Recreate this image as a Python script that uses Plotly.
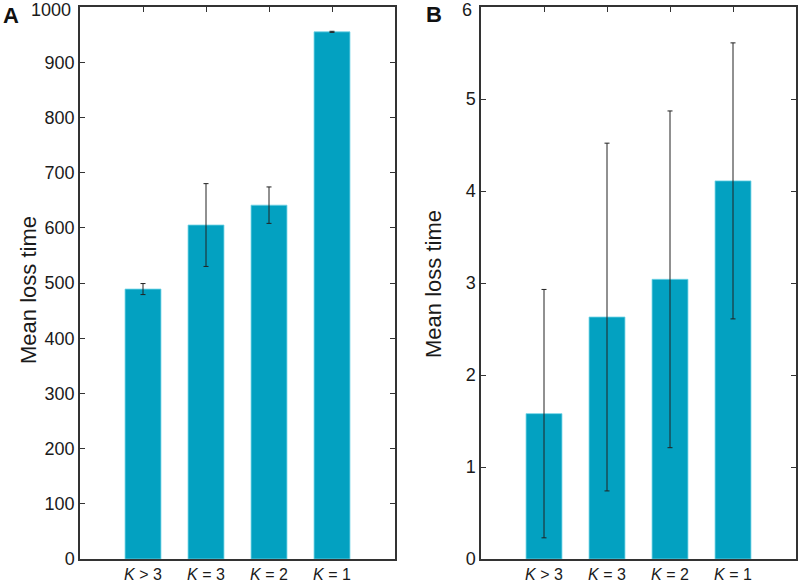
import plotly.graph_objects as go

# ── Data ──────────────────────────────────────────────────────────────────────
categories = ["<i>K</i> > 3", "<i>K</i> = 3", "<i>K</i> = 2", "<i>K</i> = 1"]

loss_a = [489, 605, 641, 955]
err_a = [10, 75, 33, 1]

loss_b = [1.58, 2.63, 3.04, 4.11]
err_b = [1.35, 1.89, 1.83, 1.50]

ticks_a = [0, 100, 200, 300, 400, 500, 600, 700, 800, 900, 1000]
ticks_b = [0, 1, 2, 3, 4, 5, 6]

# ── Style ─────────────────────────────────────────────────────────────────────
BAR = "#03a1c1"
BAR_EDGE = "#6fd3e6"
AXIS = "#333333"
TEXT = "#1a1a1a"
FONT = "Liberation Sans, Arial, sans-serif"

W, H = 799, 585


def px_x(p):
    return p / W


def px_y(p):
    return 1 - p / H


pos = list(range(len(categories)))

fig = go.Figure()

for vals, errs, xa, ya in [(loss_a, err_a, "x", "y"), (loss_b, err_b, "x2", "y2")]:
    fig.add_trace(go.Bar(
        x=pos, y=vals,
        width=0.57,
        marker=dict(color=BAR, line=dict(color=BAR_EDGE, width=0.8)),
        error_y=dict(type="data", array=errs, visible=True,
                     color="#222222", thickness=1, width=2.5),
        xaxis=xa, yaxis=ya,
        showlegend=False,
    ))

x_common = dict(
    range=[-1, 4],
    tickvals=pos,
    ticktext=categories,
    ticks="",
    showline=True,
    linecolor=AXIS,
    linewidth=1.5,
    mirror=True,
    showgrid=False,
    zeroline=False,
    automargin=False,
    ticklabeloverflow="allow",
    tickfont=dict(size=16, color=TEXT, family=FONT),
)

y_common = dict(
    ticks="inside",
    ticklen=5,
    tickcolor=AXIS,
    tickwidth=1.2,
    showline=True,
    linecolor=AXIS,
    linewidth=1.5,
    mirror="ticks",
    showgrid=False,
    zeroline=False,
    automargin=False,
    ticklabeloverflow="allow",
    tickfont=dict(size=18, color=TEXT, family=FONT),
)

top_ticks = dict(
    range=[-1, 4],
    tickvals=pos,
    ticks="inside",
    ticklen=5,
    tickcolor=AXIS,
    tickwidth=1.2,
    showticklabels=False,
    showline=False,
    showgrid=False,
    zeroline=False,
    automargin=False,
    side="top",
)

dom_y = [px_y(559), px_y(7)]


def label(text, x, y, size, angle=0, color=TEXT):
    return dict(text=text, x=px_x(x), y=px_y(y), xref="paper", yref="paper",
                xanchor="center", yanchor="middle", textangle=angle,
                showarrow=False, font=dict(size=size, color=color, family=FONT))


def top_tick_label(val, xref, yref):
    # the topmost tick label sits a little lower so it is not cut at the page edge
    return dict(text=str(val), x=-1, y=val, xref=xref, yref=yref,
                xanchor="right", yanchor="middle", xshift=-7, yshift=-3,
                showarrow=False, font=dict(size=18, color=TEXT, family=FONT))


fig.update_layout(
    width=W, height=H,
    margin=dict(l=0, r=0, t=0, b=0, autoexpand=False),
    paper_bgcolor="white",
    plot_bgcolor="white",
    font=dict(family=FONT, color=TEXT),
    xaxis=dict(domain=[px_x(80), px_x(395)], anchor="y", **x_common),
    yaxis=dict(domain=dom_y, anchor="x", range=[0, 1000], tickvals=ticks_a,
               ticktext=[str(t) for t in ticks_a[:-1]] + [""], **y_common),
    xaxis2=dict(domain=[px_x(481), px_x(796)], anchor="y2", **x_common),
    yaxis2=dict(domain=dom_y, anchor="x2", range=[0, 6], tickvals=ticks_b,
                ticktext=[str(t) for t in ticks_b[:-1]] + [""], **y_common),
    xaxis3=dict(overlaying="x", anchor="y", **top_ticks),
    xaxis4=dict(overlaying="x2", anchor="y2", **top_ticks),
    annotations=[
        label("Mean loss time", 28, 290, 22, -90),
        label("Mean loss time", 433, 284, 22, -90),
        label("<b>A</b>", 11, 15, 22, color="#111111"),
        label("<b>B</b>", 434, 14, 22, color="#111111"),
        top_tick_label(ticks_a[-1], "x", "y"),
        top_tick_label(ticks_b[-1], "x2", "y2"),
    ],
)

# empty traces so the top tick axes are drawn
fig.add_trace(go.Scatter(x=[None], y=[None], xaxis="x3", yaxis="y", showlegend=False))
fig.add_trace(go.Scatter(x=[None], y=[None], xaxis="x4", yaxis="y2", showlegend=False))

# the page body has a default 8px margin; drop it so the figure sits at 0,0
fig.write_html("out.html", config={"displayModeBar": False},
               post_script="document.body.style.margin='0';")
